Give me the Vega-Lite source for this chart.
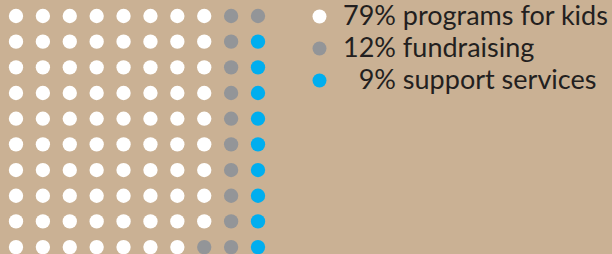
{
  "$schema": "https://vega.github.io/schema/vega-lite/v6.json",
  "width": 612,
  "height": 254,
  "autosize": {"type": "none"},
  "padding": 0,
  "background": "#CAB194",
  "config": {"view": {"stroke": null}},
  "data": {"values": [
    {"c":1,"r":1,"k":"P"},{"c":2,"r":1,"k":"P"},{"c":3,"r":1,"k":"P"},{"c":4,"r":1,"k":"P"},{"c":5,"r":1,"k":"P"},{"c":6,"r":1,"k":"P"},{"c":7,"r":1,"k":"P"},{"c":8,"r":1,"k":"P"},{"c":9,"r":1,"k":"F"},{"c":10,"r":1,"k":"F"},
    {"c":1,"r":2,"k":"P"},{"c":2,"r":2,"k":"P"},{"c":3,"r":2,"k":"P"},{"c":4,"r":2,"k":"P"},{"c":5,"r":2,"k":"P"},{"c":6,"r":2,"k":"P"},{"c":7,"r":2,"k":"P"},{"c":8,"r":2,"k":"P"},{"c":9,"r":2,"k":"F"},{"c":10,"r":2,"k":"S"},
    {"c":1,"r":3,"k":"P"},{"c":2,"r":3,"k":"P"},{"c":3,"r":3,"k":"P"},{"c":4,"r":3,"k":"P"},{"c":5,"r":3,"k":"P"},{"c":6,"r":3,"k":"P"},{"c":7,"r":3,"k":"P"},{"c":8,"r":3,"k":"P"},{"c":9,"r":3,"k":"F"},{"c":10,"r":3,"k":"S"},
    {"c":1,"r":4,"k":"P"},{"c":2,"r":4,"k":"P"},{"c":3,"r":4,"k":"P"},{"c":4,"r":4,"k":"P"},{"c":5,"r":4,"k":"P"},{"c":6,"r":4,"k":"P"},{"c":7,"r":4,"k":"P"},{"c":8,"r":4,"k":"P"},{"c":9,"r":4,"k":"F"},{"c":10,"r":4,"k":"S"},
    {"c":1,"r":5,"k":"P"},{"c":2,"r":5,"k":"P"},{"c":3,"r":5,"k":"P"},{"c":4,"r":5,"k":"P"},{"c":5,"r":5,"k":"P"},{"c":6,"r":5,"k":"P"},{"c":7,"r":5,"k":"P"},{"c":8,"r":5,"k":"P"},{"c":9,"r":5,"k":"F"},{"c":10,"r":5,"k":"S"},
    {"c":1,"r":6,"k":"P"},{"c":2,"r":6,"k":"P"},{"c":3,"r":6,"k":"P"},{"c":4,"r":6,"k":"P"},{"c":5,"r":6,"k":"P"},{"c":6,"r":6,"k":"P"},{"c":7,"r":6,"k":"P"},{"c":8,"r":6,"k":"P"},{"c":9,"r":6,"k":"F"},{"c":10,"r":6,"k":"S"},
    {"c":1,"r":7,"k":"P"},{"c":2,"r":7,"k":"P"},{"c":3,"r":7,"k":"P"},{"c":4,"r":7,"k":"P"},{"c":5,"r":7,"k":"P"},{"c":6,"r":7,"k":"P"},{"c":7,"r":7,"k":"P"},{"c":8,"r":7,"k":"P"},{"c":9,"r":7,"k":"F"},{"c":10,"r":7,"k":"S"},
    {"c":1,"r":8,"k":"P"},{"c":2,"r":8,"k":"P"},{"c":3,"r":8,"k":"P"},{"c":4,"r":8,"k":"P"},{"c":5,"r":8,"k":"P"},{"c":6,"r":8,"k":"P"},{"c":7,"r":8,"k":"P"},{"c":8,"r":8,"k":"P"},{"c":9,"r":8,"k":"F"},{"c":10,"r":8,"k":"S"},
    {"c":1,"r":9,"k":"P"},{"c":2,"r":9,"k":"P"},{"c":3,"r":9,"k":"P"},{"c":4,"r":9,"k":"P"},{"c":5,"r":9,"k":"P"},{"c":6,"r":9,"k":"P"},{"c":7,"r":9,"k":"P"},{"c":8,"r":9,"k":"P"},{"c":9,"r":9,"k":"F"},{"c":10,"r":9,"k":"S"},
    {"c":1,"r":10,"k":"P"},{"c":2,"r":10,"k":"P"},{"c":3,"r":10,"k":"P"},{"c":4,"r":10,"k":"P"},{"c":5,"r":10,"k":"P"},{"c":6,"r":10,"k":"P"},{"c":7,"r":10,"k":"P"},{"c":8,"r":10,"k":"F"},{"c":9,"r":10,"k":"F"},{"c":10,"r":10,"k":"S"}
  ]},
  "mark": {"type": "circle", "opacity": 1, "size": 205},
  "encoding": {
    "x": {"field": "c", "type": "quantitative", "scale": {"domain": [0.405, 23.165], "nice": false, "zero": false}, "axis": null},
    "y": {"field": "r", "type": "quantitative", "scale": {"domain": [0.377, 10.27], "nice": false, "zero": false, "reverse": true}, "axis": null},
    "color": {
      "field": "k", "type": "nominal",
      "scale": {"domain": ["P", "F", "S"], "range": ["#FFFFFF", "#939598", "#00AEEF"]},
      "legend": {
        "title": null,
        "orient": "none",
        "legendX": 306,
        "legendY": 3,
        "symbolType": "circle",
        "symbolSize": 195,
        "symbolOpacity": 1,
        "symbolStrokeWidth": 0,
        "labelFont": "Lato",
        "labelFontSize": 27,
        "labelColor": "#231F20",
        "labelOffset": 10,
        "labelLimit": 400,
        "rowPadding": 4,
        "labelExpr": "datum.value == 'P' ? '79% programs for kids' : datum.value == 'F' ? '12% fundraising' : '\u200b\u20079% support services'"
      }
    }
  }
}
